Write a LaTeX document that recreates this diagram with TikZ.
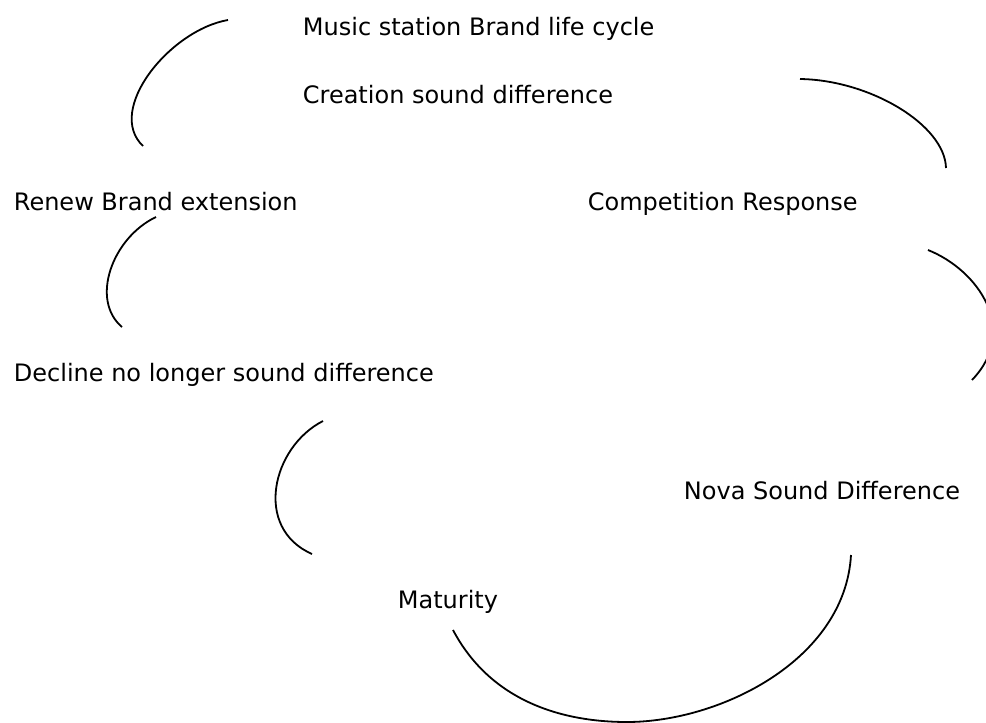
\documentclass[tikz,border=0pt]{standalone}
\usepackage{fontspec}
\setmainfont{DejaVu Sans}
\tikzset{etiqueta/.style={anchor=base west, inner sep=0pt, font=\fontsize{24}{28}\selectfont}}
\begin{document}
\begin{tikzpicture}[x=1pt,y=-1pt,line width=1.8pt] %Ciclo de vida de la marca
        \useasboundingbox[fill=white] (0,0) rectangle (986,723);
        \clip (0,0) rectangle (986,723);

        \coordinate (A) at (228,20);
        \coordinate (B) at (143,146);
        \coordinate (C) at (800,79);
        \coordinate (D) at (946,168);
        \coordinate (E) at (928,250);
        \coordinate (F) at (972,380);
        \coordinate (G) at (156,217);
        \coordinate (H) at (122,327);
        \coordinate (I) at (323,421);
        \coordinate (J) at (312,554);
        \coordinate (K) at (453,630);
        \coordinate (L) at (627,722);
        \coordinate (M) at (851,555);

        \draw (A) .. controls (170,30) and (105,110) .. (B);
        \draw (C) .. controls (870,80) and (945,125) .. (D);
        \draw (E) .. controls (978,270) and (1020,330) .. (F);
        \draw (G) .. controls (112,238) and (90,300) .. (H);
        \draw (I) .. controls (272,447) and (253,528) .. (J);
        \draw (K) .. controls (490,700) and (560,722) .. (L)
              .. controls (720,722) and (845,660) .. (M);

        \node[etiqueta] (musica) at (302,35) {Music station Brand life cycle};
        \node[etiqueta] (creacion) at (302,103) {Creation sound difference};
        \node[etiqueta] (renovar) at (13,210) {Renew Brand extension};
        \node[etiqueta] (competencia) at (587,210) {Competition Response};
        \node[etiqueta] (declive) at (13,381) {Decline no longer sound difference};
        \node[etiqueta] (nova) at (683,499) {Nova Sound Difference};
        \node[etiqueta] (madurez) at (397,608) {Maturity};
    \end{tikzpicture}
\end{document}
